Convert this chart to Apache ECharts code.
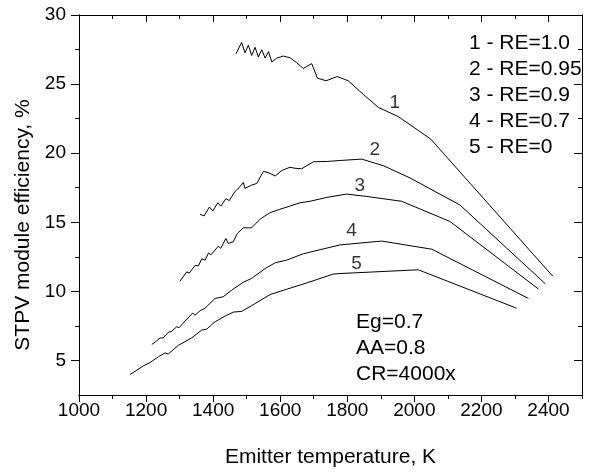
<!DOCTYPE html>
<html>
<head>
<meta charset="utf-8">
<script src="https://cdn.jsdelivr.net/npm/echarts@6/dist/echarts.min.js"></script>
<style>
  html, body { margin: 0; padding: 0; background: #fff; }
  #chart { width: 603px; height: 473px; }
</style>
</head>
<body>
<div id="chart"></div>
<script>
// [temperature K, efficiency %]
const re100 = [[1468, 27.19], [1485, 28.01], [1495, 27.26], [1505, 27.82], [1515, 27.07], [1525, 27.66],
  [1535, 26.96], [1545, 27.49], [1555, 26.88], [1565, 27.35], [1575, 26.60], [1590, 26.88], [1609, 27.03],
  [1629, 26.91], [1649, 26.55], [1669, 26.13], [1694, 26.48], [1711, 25.43], [1737, 25.24], [1770, 25.55],
  [1803, 25.24], [1848, 24.25], [1893, 23.31], [1952, 22.65], [2049, 21.02], [2413, 11.09]];
const re095 = [[1361, 15.58], [1373, 15.46], [1389, 16.10], [1399, 15.82], [1414, 16.41], [1423, 16.17],
  [1438, 16.71], [1448, 16.57], [1465, 17.22], [1480, 17.57], [1490, 17.88], [1495, 17.46], [1515, 17.69],
  [1530, 17.81], [1550, 18.68], [1565, 18.59], [1585, 18.35], [1605, 18.75], [1629, 18.98], [1644, 18.91],
  [1664, 18.87], [1699, 19.38], [1739, 19.40], [1778, 19.47], [1843, 19.57], [1907, 19.10], [1987, 18.21],
  [2136, 16.25], [2391, 10.54]];
const re090 = [[1301, 10.73], [1321, 11.41], [1329, 11.32], [1346, 11.88], [1356, 11.84], [1366, 12.35],
  [1376, 12.26], [1386, 12.77], [1394, 12.65], [1415, 13.26], [1423, 13.12], [1438, 13.83], [1445, 13.47],
  [1460, 13.59], [1472, 14.18], [1490, 14.60], [1515, 14.60], [1540, 15.23], [1570, 15.70], [1599, 15.94],
  [1629, 16.17], [1659, 16.41], [1689, 16.52], [1739, 16.80], [1798, 17.04], [1858, 16.87], [1962, 16.52],
  [2106, 15.06], [2370, 10.17]];
const re070 = [[1217, 6.16], [1227, 6.32], [1242, 6.63], [1251, 6.63], [1266, 7.03], [1276, 7.10],
  [1291, 7.43], [1299, 7.38], [1316, 7.85], [1339, 8.43], [1346, 8.27], [1361, 8.60], [1376, 8.79],
  [1406, 9.49], [1430, 9.61], [1455, 10.08], [1490, 10.66], [1515, 10.94], [1555, 11.65], [1585, 12.07],
  [1619, 12.26], [1669, 12.72], [1778, 13.36], [1903, 13.64], [2052, 13.05], [2340, 9.49]];
const re000 = [[1152, 3.98], [1167, 4.21], [1192, 4.61], [1212, 4.85], [1237, 5.27], [1257, 5.55],
  [1266, 5.46], [1296, 6.09], [1336, 6.63], [1366, 7.20], [1381, 7.27], [1406, 7.80], [1435, 8.20],
  [1460, 8.50], [1485, 8.55], [1515, 8.97], [1570, 9.77], [1619, 10.15], [1679, 10.61], [1758, 11.25],
  [1778, 11.29], [2012, 11.56], [2305, 8.78]];

const curveNames = ["1", "2", "3", "4", "5"];
const curveLabelAt = [[1942, 23.64], [1882, 20.23], [1837, 17.67], [1813, 14.37], [1828, 12.02]];
const legendLines = ["1 - RE=1.0", "2 - RE=0.95", "3 - RE=0.9", "4 - RE=0.7", "5 - RE=0"];
const paramLines = ["Eg=0.7", "AA=0.8", "CR=4000x"];

const xMajor = [1000, 1200, 1400, 1600, 1800, 2000, 2200, 2400];
const xMinor = [1100, 1300, 1500, 1700, 1900, 2100, 2300, 2500];
const yMajor = [5, 10, 15, 20, 25, 30];
const yMinor = [7.5, 12.5, 17.5, 22.5, 27.5];

const FONT = "Liberation Sans, Arial, sans-serif";
const black = "#000";

function plain(v) { return String(v); }

function xAx(pos, ticks, len, inside, withLabels) {
  return {
    type: "value", position: pos, min: 1000, max: 2500,
    axisLine: { show: true, onZero: false, lineStyle: { color: black, width: 1 } },
    axisTick: { show: true, inside: inside, length: len, customValues: ticks, lineStyle: { color: black } },
    axisLabel: withLabels
      ? { show: true, customValues: ticks, formatter: plain, fontSize: 19, color: black, fontFamily: FONT, margin: 6 }
      : { show: false },
    splitLine: { show: false }
  };
}
function yAx(pos, ticks, len, inside, withLabels) {
  return {
    type: "value", position: pos, min: 2.5, max: 30,
    axisLine: { show: true, onZero: false, lineStyle: { color: black, width: 1 } },
    axisTick: { show: true, inside: inside, length: len, customValues: ticks, lineStyle: { color: black } },
    axisLabel: withLabels
      ? { show: true, customValues: ticks, formatter: plain, fontSize: 19, color: black, fontFamily: FONT, margin: 13 }
      : { show: false },
    splitLine: { show: false }
  };
}

const xAxes = [
  Object.assign(xAx("bottom", xMajor, 7, false, true), {
    name: "Emitter temperature, K", nameLocation: "middle", nameGap: 52,
    nameTextStyle: { fontSize: 21, color: black, fontFamily: FONT }
  }),
  xAx("bottom", xMinor, 4, false, false),
  xAx("top", xMajor, 7, true, false),
  xAx("top", xMinor, 4, true, false)
];
const yAxes = [
  yAx("left", yMajor, 8, false, true),
  yAx("left", yMinor, 4, false, false),
  yAx("right", yMajor, 8, true, false),
  yAx("right", yMinor, 4, true, false)
];

const curves = [re100, re095, re090, re070, re000];
const series = curves.map(function (d, i) {
  return {
    name: curveNames[i], type: "line", data: d,
    xAxisIndex: 0, yAxisIndex: 0,
    symbol: "none", smooth: false,
    lineStyle: { color: black, width: 1 }
  };
});
series.push({
  type: "scatter", xAxisIndex: 0, yAxisIndex: 0,
  data: curveLabelAt.map(function (p, i) { return [p[0], p[1], curveNames[i]]; }),
  symbolSize: 1,
  itemStyle: { color: "transparent" },
  label: {
    show: true, position: "inside", color: black, fontSize: 19, fontFamily: FONT,
    formatter: function (p) { return p.value[2]; }
  },
  silent: true
});

const chart = echarts.init(document.getElementById("chart"), null, { renderer: "canvas" });
chart.setOption({
  animation: false,
  backgroundColor: "#fff",
  grid: { left: 79, right: 21, top: 15, bottom: 67, containLabel: false },
  xAxis: xAxes,
  yAxis: yAxes,
  series: series,
  graphic: [
    {
      type: "text", left: 469, top: 30,
      style: { text: legendLines.join("\n"), lineHeight: 26, fill: black, font: "21px " + FONT }
    },
    {
      type: "text", left: 356, top: 309,
      style: { text: paramLines.join("\n"), lineHeight: 26, fill: black, font: "21px " + FONT }
    },
    {
      type: "text", x: 23, y: 225, rotation: Math.PI / 2,
      style: { text: "STPV module efficiency, %", fill: black, font: "21px " + FONT,
        align: "center", verticalAlign: "middle" }
    }
  ]
});
</script>
</body>
</html>
